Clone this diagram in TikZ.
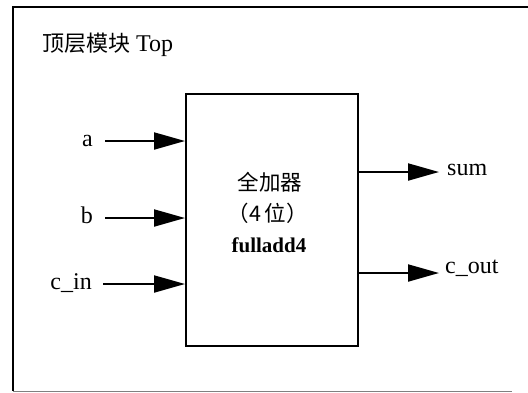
\documentclass[tikz,border=0pt]{standalone}
\usepackage{fontspec}
\setmainfont{Liberation Serif}
\newfontfamily\cjk{Noto Sans CJK SC}
\usetikzlibrary{arrows.meta}
\begin{document}
\begin{tikzpicture}[x=1pt,y=-1pt,
  lbl/.style={inner sep=0pt,font=\fontsize{24}{26}\selectfont},
  cjklbl/.style={inner sep=0pt,font=\fontsize{21.5}{24}\selectfont\cjk},
  arr/.style={line width=2pt,-{Triangle[length=31pt,width=17pt]}},
  frame/.style={line width=1.8pt},
  modbox/.style={draw,line width=2pt,minimum width=172pt,minimum height=252pt,inner sep=0pt}]
\useasboundingbox (0,0) rectangle (528,392);
% outer frame (open on the right)
\draw[frame] (528,7) -- (13,7) -- (13,391);
\draw[gray,line width=1pt] (13,391) -- (512,391);
% title
\node[anchor=base west,inner sep=0pt] (title) at (42,51)
  {\fontsize{22}{24}\selectfont\cjk 顶层模块\rmfamily\fontsize{24}{26}\selectfont\ Top};
% module box
\node[modbox] (box) at (272,220) {};
\node[cjklbl] (t1) at (270,182) {全加器};
\node[cjklbl] (t2) at (268,213) {（4\,位）};
\node[inner sep=0pt,anchor=base,font=\fontsize{21}{24}\selectfont\bfseries] (t3) at (269,252) {fulladd4};
% inputs
\node[lbl,anchor=base east] (a) at (93,146) {a};
\node[lbl,anchor=base east] (b) at (93,223) {b};
\node[lbl,anchor=base east] (cin) at (92,289) {c\_in};
\draw[arr] ([xshift=12pt]a.east |- 0,141) -- (box.west |- 0,141);
\draw[arr] ([xshift=12pt]b.east |- 0,218) -- (box.west |- 0,218);
\draw[arr] ([xshift=11pt]cin.east |- 0,284) -- (box.west |- 0,284);
% outputs
\node[lbl,anchor=base west] (sum) at (447,175) {sum};
\node[lbl,anchor=base west] (cout) at (445,273) {c\_out};
\draw[arr] (box.east |- 0,172) -- ([xshift=-8pt]sum.west |- 0,172);
\draw[arr] (box.east |- 0,273) -- ([xshift=-6pt]cout.west |- 0,273);
\end{tikzpicture}
\end{document}
